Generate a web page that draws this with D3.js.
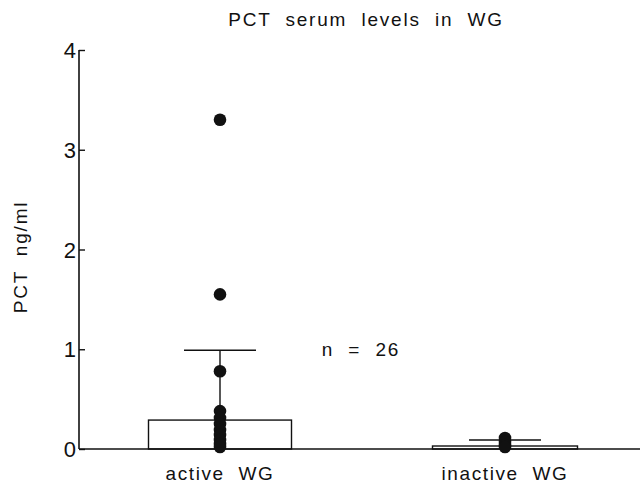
<!DOCTYPE html>
<html>
<head>
<meta charset="utf-8">
<script src="https://cdn.jsdelivr.net/npm/d3@7"></script>
<style>
  body { margin: 0; background: #fff; }
  svg text { font-family: "Liberation Sans", "DejaVu Sans", sans-serif; fill: #111; white-space: pre; }
</style>
</head>
<body>
<svg id="chart" width="640" height="485"></svg>
<script>
// group labels and summary values (PCT ng/ml)
var groups = ["active  WG", "inactive  WG"];
var means = [0.29, 0.03];
var errTops = [0.99, 0.09];
var activeDots = [3.30, 1.55, 0.78, 0.38, 0.31, 0.25, 0.19, 0.14, 0.09, 0.05, 0.02];
var inactiveDots = [0.11, 0.07, 0.04, 0.02];
var yTicks = [0, 1, 2, 3, 4];

var svg = d3.select("#chart"),
    ink = "#111";

var x = d3.scalePoint().domain(groups).range([220, 505]),
    y = d3.scaleLinear().domain([0, 4]).range([449, 50]);

// y axis, ticks pointing inward
var yAxis = d3.axisRight(y).tickValues(yTicks).tickSize(6).tickFormat("");
var ga = svg.append("g").attr("transform", "translate(79,0)").call(yAxis);
ga.select(".domain").remove();
ga.selectAll("line").attr("stroke", ink).attr("stroke-width", 1.4);
svg.append("line").attr("x1", 79).attr("x2", 79).attr("y1", y(4)).attr("y2", y(0))
    .attr("stroke", ink).attr("stroke-width", 1.6);
svg.selectAll(".ylab").data(yTicks).enter().append("text")
    .attr("x", 76).attr("y", function (d) { return y(d) + 8; })
    .attr("text-anchor", "end").attr("font-size", 22).text(function (d) { return d; });

// baseline
svg.append("line").attr("x1", 79).attr("x2", 640).attr("y1", y(0)).attr("y2", y(0))
    .attr("stroke", ink).attr("stroke-width", 1.6);

var barW = [143, 145], capW = [72, 72];
groups.forEach(function (g, i) {
    var c = x(g);
    svg.append("rect").attr("x", c - barW[i] / 2).attr("y", y(means[i]))
        .attr("width", barW[i]).attr("height", y(0) - y(means[i]))
        .attr("fill", "none").attr("stroke", ink).attr("stroke-width", 1.4);
    svg.append("line").attr("x1", c).attr("x2", c).attr("y1", y(means[i])).attr("y2", y(errTops[i]))
        .attr("stroke", ink).attr("stroke-width", 1.4);
    svg.append("line").attr("x1", c - capW[i] / 2).attr("x2", c + capW[i] / 2)
        .attr("y1", y(errTops[i])).attr("y2", y(errTops[i]))
        .attr("stroke", ink).attr("stroke-width", 1.6);
    svg.append("text").attr("x", c).attr("y", 480).attr("text-anchor", "middle")
        .attr("font-size", 19).attr("letter-spacing", 1.6).text(g);
});

[activeDots, inactiveDots].forEach(function (dots, i) {
    svg.selectAll(".dot" + i).data(dots).enter().append("circle")
        .attr("cx", x(groups[i])).attr("cy", function (d) { return y(d); })
        .attr("r", 6.3).attr("fill", ink);
});

svg.append("text").attr("x", 366).attr("y", 26).attr("text-anchor", "middle")
    .attr("font-size", 19).attr("letter-spacing", 1.8).text("PCT  serum  levels  in  WG");
svg.append("text").attr("transform", "translate(27,257) rotate(-90)").attr("text-anchor", "middle")
    .attr("font-size", 19).attr("letter-spacing", 1.8).text("PCT  ng/ml");
svg.append("text").attr("x", 361).attr("y", 356).attr("text-anchor", "middle")
    .attr("font-size", 19).attr("letter-spacing", 1.8).text("n  =  26");
</script>
</body>
</html>
